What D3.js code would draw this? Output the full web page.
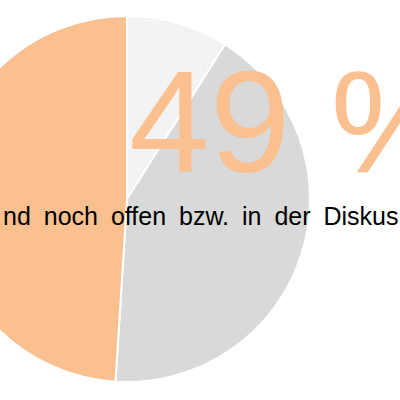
<!DOCTYPE html>
<html>
<head>
<meta charset="utf-8">
<script src="https://cdn.jsdelivr.net/npm/d3@7"></script>
<style>
  html, body { margin: 0; padding: 0; background: #fff; overflow: hidden; }
  svg { display: block; font-family: "Liberation Sans", Arial, sans-serif; }
</style>
</head>
<body>
<div id="chart"></div>
<script>
// slice data, clockwise from 12 o'clock
var categories = ["erledigt", "in Umsetzung", "offen / in Diskussion"];
var shares = [9, 42, 49];
var sliceColors = ["url(#dots)", "#d9d9d9", "#fac090"];

var bigLabel = "49 %";
var caption = "nd noch offen bzw. in der Diskussion";
var visibleCaption = "nd noch offen bzw. in der Diskus"; // part that fits the box

var width = 400;
var height = 400;
var radius = 183;
var cx = 127;
var cy = 199;

var svg = d3.select("#chart")
    .append("svg")
    .attr("width", width)
    .attr("height", height);

var defs = svg.append("defs");

// light dotted fill for the small slice
var pat = defs.append("pattern")
    .attr("id", "dots")
    .attr("width", 3)
    .attr("height", 3)
    .attr("patternUnits", "userSpaceOnUse");
pat.append("rect").attr("width", 3).attr("height", 3).attr("fill", "#f4f4f4");
pat.append("rect").attr("width", 1).attr("height", 1).attr("fill", "#ebebeb");

var clipRect = defs.append("clipPath")
    .attr("id", "capclip")
    .append("rect")
    .attr("x", 0)
    .attr("y", 190)
    .attr("width", width)
    .attr("height", 50);

var pie = d3.pie().sort(null).value(function(d) { return d; });
var arc = d3.arc().innerRadius(0).outerRadius(radius);

var g = svg.append("g")
    .attr("transform", "translate(" + cx + "," + cy + ")");

g.selectAll("path")
    .data(pie(shares))
    .enter()
    .append("path")
    .attr("d", arc)
    .attr("fill", function(d, i) { return sliceColors[i]; })
    .attr("stroke", "#fff")
    .attr("stroke-width", 2);

// big percentage
svg.append("text")
    .attr("x", 129)
    .attr("y", 172)
    .attr("font-size", 145)
    .attr("fill", "#fac090")
    .text(bigLabel);

// caption line, cut at the end of the text box
var cap = svg.append("text")
    .attr("clip-path", "url(#capclip)")
    .attr("x", 3)
    .attr("y", 225)
    .attr("font-size", 25)
    .attr("word-spacing", 6)
    .attr("fill", "#000")
    .text(caption);

var capEnd = 3 + cap.node().getSubStringLength(0, visibleCaption.length);
clipRect.attr("width", capEnd);
</script>
</body>
</html>
